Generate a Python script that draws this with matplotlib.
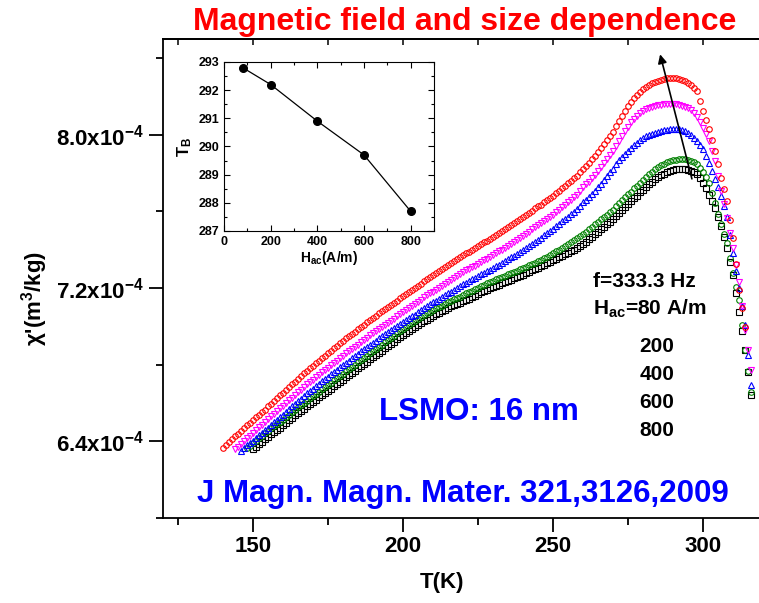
import matplotlib
matplotlib.use("Agg")
import matplotlib.pyplot as plt
from matplotlib.ticker import MultipleLocator, FixedLocator, FixedFormatter
import numpy as np

plt.rcParams['font.family'] = ['Liberation Sans', 'DejaVu Sans']
plt.rcParams['font.weight'] = 'bold'
plt.rcParams['axes.labelweight'] = 'bold'
plt.rcParams['mathtext.fontset'] = 'custom'
plt.rcParams['mathtext.rm'] = 'Liberation Sans:bold'
plt.rcParams['mathtext.it'] = 'Liberation Sans:bold'
plt.rcParams['mathtext.bf'] = 'Liberation Sans:bold'
plt.rcParams['mathtext.default'] = 'rm'

# chi' in units of 1e-4 m^3/kg, one point per K
t_80 = list(range(140, 315))
chi_80 = [6.364, 6.380, 6.395, 6.411, 6.426, 6.439, 6.452, 6.468, 6.483, 6.496,
          6.509, 6.525, 6.540, 6.553, 6.566, 6.582, 6.597, 6.612, 6.626, 6.640,
          6.654, 6.669, 6.683, 6.698, 6.712, 6.726, 6.740, 6.755, 6.769, 6.782,
          6.795, 6.808, 6.821, 6.834, 6.847, 6.860, 6.873, 6.886, 6.899, 6.912,
          6.925, 6.937, 6.948, 6.960, 6.971, 6.984, 6.997, 7.009, 7.021, 7.033,
          7.044, 7.056, 7.068, 7.080, 7.091, 7.102, 7.112, 7.124, 7.135, 7.147,
          7.158, 7.169, 7.179, 7.190, 7.200, 7.212, 7.223, 7.235, 7.247, 7.258,
          7.268, 7.278, 7.288, 7.299, 7.309, 7.320, 7.330, 7.341, 7.351, 7.361,
          7.371, 7.381, 7.390, 7.399, 7.408, 7.419, 7.429, 7.438, 7.447, 7.456,
          7.465, 7.476, 7.486, 7.496, 7.506, 7.517, 7.527, 7.538, 7.548, 7.559,
          7.569, 7.581, 7.592, 7.604, 7.616, 7.626, 7.636, 7.648, 7.660, 7.672,
          7.683, 7.696, 7.709, 7.722, 7.735, 7.748, 7.761, 7.774, 7.787, 7.805,
          7.823, 7.839, 7.855, 7.873, 7.891, 7.912, 7.932, 7.953, 7.974, 7.995,
          8.016, 8.045, 8.073, 8.099, 8.125, 8.148, 8.171, 8.190, 8.208, 8.224,
          8.239, 8.250, 8.260, 8.268, 8.275, 8.281, 8.286, 8.290, 8.294, 8.295,
          8.296, 8.294, 8.291, 8.286, 8.281, 8.271, 8.260, 8.245, 8.229, 8.177,
          8.125, 8.078, 8.031, 7.974, 7.917, 7.847, 7.777, 7.715, 7.652, 7.556,
          7.460, 7.325, 7.190, 7.094, 6.997]

t_200 = list(range(144, 317))
chi_200 = [6.358, 6.371, 6.384, 6.400, 6.416, 6.429,
           6.442, 6.458, 6.473, 6.486, 6.499, 6.515, 6.530, 6.544, 6.558, 6.573,
           6.587, 6.601, 6.614, 6.628, 6.642, 6.656, 6.670, 6.684, 6.697, 6.710,
           6.722, 6.735, 6.748, 6.760, 6.772, 6.785, 6.797, 6.810, 6.822, 6.835,
           6.847, 6.859, 6.870, 6.881, 6.892, 6.905, 6.918, 6.930, 6.941, 6.953,
           6.964, 6.975, 6.986, 6.998, 7.009, 7.020, 7.030, 7.041, 7.052, 7.064,
           7.075, 7.086, 7.096, 7.106, 7.116, 7.128, 7.139, 7.151, 7.162, 7.172,
           7.182, 7.192, 7.202, 7.212, 7.222, 7.233, 7.243, 7.253, 7.263, 7.273,
           7.283, 7.292, 7.300, 7.309, 7.317, 7.327, 7.337, 7.346, 7.354, 7.363,
           7.371, 7.381, 7.391, 7.401, 7.411, 7.421, 7.431, 7.441, 7.450, 7.460,
           7.470, 7.482, 7.494, 7.506, 7.517, 7.528, 7.538, 7.550, 7.561, 7.573,
           7.584, 7.597, 7.610, 7.623, 7.636, 7.649, 7.662, 7.675, 7.688, 7.707,
           7.725, 7.741, 7.756, 7.774, 7.792, 7.813, 7.834, 7.855, 7.875, 7.896,
           7.917, 7.943, 7.969, 7.995, 8.021, 8.043, 8.065, 8.082, 8.099, 8.112,
           8.125, 8.133, 8.140, 8.146, 8.151, 8.154, 8.156, 8.159, 8.161, 8.161,
           8.161, 8.159, 8.156, 8.151, 8.145, 8.138, 8.130, 8.112, 8.094, 8.065,
           8.036, 8.003, 7.969, 7.917, 7.865, 7.787, 7.709, 7.637, 7.564, 7.486,
           7.408, 7.320, 7.231, 7.107, 6.982, 6.878, 6.774]

t_400 = list(range(146, 317))
chi_400 = [6.348, 6.364, 6.379, 6.391,
           6.403, 6.417, 6.431, 6.444, 6.457, 6.472, 6.487, 6.501, 6.514, 6.527,
           6.540, 6.554, 6.568, 6.582, 6.595, 6.609, 6.623, 6.637, 6.650, 6.663,
           6.675, 6.688, 6.700, 6.713, 6.725, 6.738, 6.750, 6.763, 6.775, 6.788,
           6.800, 6.811, 6.822, 6.834, 6.845, 6.858, 6.870, 6.881, 6.892, 6.903,
           6.914, 6.926, 6.937, 6.948, 6.959, 6.969, 6.979, 6.990, 7.001, 7.012,
           7.023, 7.033, 7.043, 7.053, 7.062, 7.073, 7.084, 7.095, 7.105, 7.115,
           7.125, 7.135, 7.144, 7.154, 7.163, 7.173, 7.182, 7.192, 7.202, 7.212,
           7.221, 7.229, 7.237, 7.245, 7.253, 7.263, 7.272, 7.280, 7.288, 7.296,
           7.304, 7.314, 7.323, 7.332, 7.341, 7.351, 7.360, 7.370, 7.379, 7.388,
           7.397, 7.409, 7.420, 7.432, 7.443, 7.453, 7.463, 7.475, 7.486, 7.498,
           7.509, 7.522, 7.535, 7.548, 7.560, 7.573, 7.585, 7.598, 7.611, 7.629,
           7.647, 7.660, 7.673, 7.690, 7.706, 7.726, 7.745, 7.765, 7.784, 7.804,
           7.823, 7.847, 7.870, 7.886, 7.901, 7.917, 7.932, 7.945, 7.958, 7.971,
           7.984, 7.992, 8.000, 8.005, 8.010, 8.016, 8.021, 8.024, 8.026, 8.029,
           8.031, 8.031, 8.031, 8.026, 8.021, 8.011, 8.000, 7.985, 7.969, 7.948,
           7.927, 7.891, 7.855, 7.813, 7.771, 7.727, 7.683, 7.626, 7.569, 7.476,
           7.382, 7.291, 7.200, 7.104, 7.008, 6.852, 6.696]

t_600 = list(range(148, 317))
chi_600 = [6.364, 6.377,
           6.390, 6.403, 6.416, 6.429, 6.442, 6.455, 6.468, 6.480, 6.491, 6.503,
           6.514, 6.527, 6.540, 6.553, 6.566, 6.578, 6.590, 6.602, 6.613, 6.625,
           6.636, 6.648, 6.660, 6.672, 6.683, 6.695, 6.706, 6.718, 6.730, 6.742,
           6.753, 6.765, 6.777, 6.789, 6.800, 6.812, 6.823, 6.835, 6.847, 6.859,
           6.870, 6.882, 6.893, 6.905, 6.917, 6.929, 6.940, 6.952, 6.964, 6.974,
           6.984, 6.996, 7.008, 7.019, 7.029, 7.039, 7.049, 7.059, 7.068, 7.077,
           7.086, 7.094, 7.101, 7.109, 7.117, 7.126, 7.135, 7.142, 7.148, 7.156,
           7.164, 7.172, 7.179, 7.187, 7.195, 7.203, 7.210, 7.218, 7.226, 7.233,
           7.239, 7.246, 7.252, 7.259, 7.265, 7.272, 7.278, 7.285, 7.291, 7.298,
           7.304, 7.312, 7.319, 7.326, 7.332, 7.340, 7.348, 7.356, 7.364, 7.373,
           7.382, 7.391, 7.400, 7.409, 7.418, 7.429, 7.439, 7.450, 7.460, 7.471,
           7.481, 7.494, 7.506, 7.519, 7.532, 7.545, 7.558, 7.571, 7.584, 7.597,
           7.610, 7.626, 7.642, 7.658, 7.673, 7.689, 7.704, 7.720, 7.735, 7.751,
           7.766, 7.781, 7.795, 7.808, 7.821, 7.832, 7.842, 7.850, 7.857, 7.863,
           7.868, 7.871, 7.873, 7.874, 7.875, 7.870, 7.865, 7.857, 7.849, 7.829,
           7.808, 7.780, 7.751, 7.697, 7.642, 7.587, 7.532, 7.483, 7.434, 7.356,
           7.278, 7.208, 7.138, 7.008, 6.878, 6.769, 6.660]

t_800 = list(range(150, 317))
chi_800 = [6.358, 6.371, 6.384, 6.397, 6.410, 6.423, 6.436, 6.448, 6.460, 6.472,
           6.483, 6.496, 6.509, 6.522, 6.535, 6.547, 6.558, 6.570, 6.582, 6.594,
           6.605, 6.617, 6.629, 6.641, 6.652, 6.664, 6.675, 6.687, 6.699, 6.711,
           6.722, 6.734, 6.745, 6.757, 6.769, 6.781, 6.792, 6.804, 6.816, 6.828,
           6.839, 6.851, 6.862, 6.874, 6.886, 6.898, 6.909, 6.921, 6.932, 6.943,
           6.953, 6.965, 6.977, 6.987, 6.997, 7.008, 7.018, 7.027, 7.036, 7.046,
           7.055, 7.063, 7.070, 7.078, 7.086, 7.095, 7.104, 7.111, 7.117, 7.124,
           7.130, 7.138, 7.145, 7.153, 7.161, 7.169, 7.177, 7.185, 7.192, 7.199,
           7.205, 7.212, 7.218, 7.225, 7.231, 7.238, 7.244, 7.251, 7.257, 7.264,
           7.270, 7.278, 7.286, 7.293, 7.299, 7.307, 7.314, 7.322, 7.330, 7.338,
           7.345, 7.353, 7.361, 7.369, 7.377, 7.385, 7.392, 7.401, 7.410, 7.420,
           7.429, 7.442, 7.455, 7.468, 7.481, 7.494, 7.506, 7.519, 7.532, 7.545,
           7.558, 7.574, 7.590, 7.606, 7.621, 7.637, 7.652, 7.668, 7.683, 7.699,
           7.714, 7.729, 7.743, 7.756, 7.769, 7.780, 7.790, 7.798, 7.805, 7.811,
           7.816, 7.819, 7.821, 7.821, 7.821, 7.817, 7.813, 7.805, 7.797, 7.774,
           7.751, 7.720, 7.688, 7.652, 7.616, 7.569, 7.522, 7.465, 7.408, 7.338,
           7.268, 7.172, 7.075, 6.977, 6.878, 6.761, 6.644]

# inset: blocking temperature vs ac field
h_ac = [80, 200, 400, 600, 800]
t_b = [292.8, 292.2, 290.9, 289.7, 287.7]

ytick_vals = [6.4e-4, 7.2e-4, 8.0e-4]
ytick_text = [r'6.4x10$^{-4}$', r'7.2x10$^{-4}$', r'8.0x10$^{-4}$']
field_labels = ['200', '400', '600', '800']

W, H = 759, 603
fig = plt.figure(figsize=(W / 100, H / 100), dpi=100)
ax = fig.add_axes([163 / W, 1 - 518 / H, 600 / W, 479 / H])

series = [
    (t_800, chi_800, 's', 'black', 3.8),
    (t_600, chi_600, 'o', '#008000', 4.0),
    (t_400, chi_400, '^', 'blue', 4.4),
    (t_200, chi_200, 'v', 'magenta', 4.4),
    (t_80, chi_80, 'o', 'red', 4.0),
]
for t, chi, m, c, ms in series:
    ax.plot(t, np.array(chi) * 1e-4, linestyle='none', marker=m, ms=ms,
            mfc='none', mec=c, mew=0.8)

ax.set_xlim(120, 320)
ax.set_ylim(6.0e-4, 8.5e-4)
ax.xaxis.set_major_locator(MultipleLocator(50))
ax.xaxis.set_minor_locator(MultipleLocator(25))
ax.yaxis.set_major_locator(FixedLocator(ytick_vals))
ax.yaxis.set_major_formatter(FixedFormatter(ytick_text))
ax.yaxis.set_minor_locator(MultipleLocator(0.4e-4))
ax.tick_params(which='major', direction='out', length=10, width=1.3,
               labelsize=16, top=False, right=False)
ax.tick_params(which='minor', direction='out', length=5, width=1.3,
               top=False, right=False)
ax.tick_params(axis='y', pad=4)
ax.tick_params(axis='x', pad=3)
for side in ['left', 'bottom', 'top']:
    ax.spines[side].set_linewidth(1.3)
ax.spines['right'].set_visible(False)

top = ax.secondary_xaxis('top')
top.xaxis.set_major_locator(MultipleLocator(25))
top.tick_params(direction='in', length=4, width=1.1, labeltop=False)
top.spines['top'].set_linewidth(1.3)

ax.set_xlabel('T(K)', fontsize=16)
ax.xaxis.set_label_coords(0.465, -0.113)
ax.set_ylabel("χ'(m$^3$/kg)", fontsize=16)
ax.yaxis.set_label_coords(-0.188, 0.459)

ax.annotate('', xy=(285.7, 8.42e-4), xytext=(296.3, 7.77e-4),
            arrowprops=dict(arrowstyle='-|>', color='black', lw=1.2,
                            mutation_scale=13, shrinkA=0, shrinkB=0))

fig.text(465 / W, 1 - 30 / H, 'Magnetic field and size dependence',
         ha='center', va='baseline', fontsize=23, color='red')
fig.text(593 / W, 1 - 287 / H, 'f=333.3 Hz', fontsize=15, va='baseline')
fig.text(593 / W, 1 - 315 / H, r'H$_{ac}$=80 A/m', fontsize=15, va='baseline')
for i, lab in enumerate(field_labels):
    fig.text(657 / W, 1 - (352 + 28 * i) / H, lab, fontsize=15,
             ha='center', va='baseline')
fig.text(379 / W, 1 - 420 / H, 'LSMO: 16 nm', fontsize=22.5,
         color='blue', va='baseline')
fig.text(197 / W, 1 - 502 / H, 'J Magn. Magn. Mater. 321,3126,2009',
         fontsize=22.5, color='blue', va='baseline')

# inset
axi = fig.add_axes([224 / W, 1 - 231 / H, 210 / W, 169 / H])
axi.plot(h_ac, t_b, color='black', lw=0.9, marker='o', ms=5.5)
axi.set_xlim(0, 900)
axi.set_ylim(287, 293)
axi.xaxis.set_major_locator(MultipleLocator(200))
axi.xaxis.set_minor_locator(MultipleLocator(100))
axi.yaxis.set_major_locator(MultipleLocator(1))
axi.yaxis.set_minor_locator(MultipleLocator(0.5))
axi.tick_params(which='both', direction='in', top=True, right=True,
                labelsize=9, width=0.8)
axi.tick_params(which='major', length=4)
axi.tick_params(which='minor', length=2)
for s in axi.spines.values():
    s.set_linewidth(0.8)
axi.set_xlabel(r'H$_{ac}$(A/m)', fontsize=10, labelpad=1)
axi.set_ylabel(r'T$_B$', fontsize=12, labelpad=3)

fig.savefig('out.png', dpi=100)
